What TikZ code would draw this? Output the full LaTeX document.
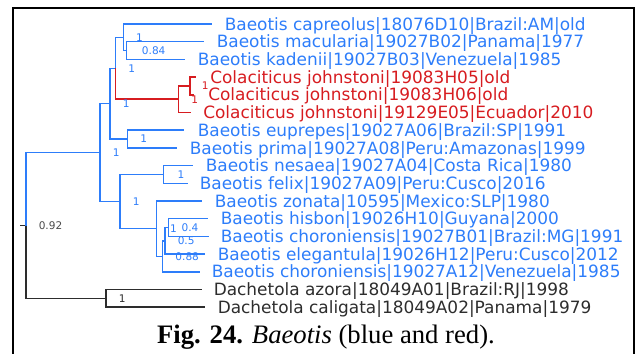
\documentclass[tikz,border=0pt]{standalone}
\usepackage{fontspec}
\setmainfont{Liberation Serif}
\newfontfamily\treefont{DejaVu Sans}
\definecolor{tblue}{RGB}{45,125,250}
\definecolor{tred}{RGB}{215,28,32}
\definecolor{tblk}{RGB}{45,45,45}
\definecolor{tgray}{RGB}{75,75,75}
\begin{document}
\begin{tikzpicture}[x=0.75pt,y=-0.75pt,
  br/.style={line width=1.1pt},
  tiplab/.style={anchor=west,inner sep=0pt,font=\treefont\fontsize{12.7}{14}\selectfont,text height=9.26pt,text depth=0pt},
  suplab/.style={anchor=west,inner sep=0pt,font=\treefont\fontsize{7.9}{9}\selectfont,text height=5.76pt,text depth=0pt},
  frame/.style={line width=1.6pt,black,line join=miter}]
\useasboundingbox (0,0) rectangle (637,354);
\draw[frame] (13,355) -- (13,7.7) -- (634.3,7.7) -- (634.3,355);

% tips
\coordinate (t1) at (212,24.0);
\coordinate (t2) at (204,41.7);
\coordinate (t3) at (185,59.4);
\coordinate (t4) at (196,77.1);
\coordinate (t5) at (194,94.8);
\coordinate (t6) at (191,112.5);
\coordinate (t7) at (184,130.2);
\coordinate (t8) at (177,147.9);
\coordinate (t9) at (193,165.6);
\coordinate (t10) at (187.5,183.3);
\coordinate (t11) at (202,201.0);
\coordinate (t12) at (208,218.7);
\coordinate (t13) at (209,236.4);
\coordinate (t14) at (205,254.1);
\coordinate (t15) at (200,271.8);
\coordinate (t16) at (202,289.5);
\coordinate (t17) at (205,307.2);

% internal nodes
\coordinate (G) at (126.7,50.55);
\coordinate (F) at (123.3,37.28);
\coordinate (I) at (190,85.95);
\coordinate (H) at (178.7,99.23);
\coordinate (D) at (115.7,68.25);
\coordinate (E) at (127.7,139.05);
\coordinate (B) at (110,103.65);
\coordinate (N) at (163.3,174.45);
\coordinate (M) at (168.3,227.55);
\coordinate (L) at (165,240.83);
\coordinate (K) at (162.7,256.3);
\coordinate (J) at (156.3,228.65);
\coordinate (C) at (120,201.55);
\coordinate (A) at (100,152.6);
\coordinate (P) at (106,298.35);
\coordinate (R) at (26,225.5);
\coordinate (R0) at (20,225.5);

% branches
\draw[br,tblk] (R0) -- (R);
\draw[br,tblue] (R) |- (A);
\draw[br,tblk] (R) |- (P);
\draw[br,tblue] (A) |- (B);
\draw[br,tblue] (A) |- (C);
\draw[br,tblue] (B) |- (D);
\draw[br,tblue] (B) |- (E);
\draw[br,tblue] (D) |- (F);
\draw[br,tred] (D) |- (H);
\draw[br,tblue] (F) |- (t1);
\draw[br,tblue] (F) |- (G);
\draw[br,tblue] (G) |- (t2);
\draw[br,tblue] (G) |- (t3);
\draw[br,tred] (H) |- (I);
\draw[br,tred] (H) |- (t6);
\draw[br,tred] (I) |- (t4);
\draw[br,tred] (I) |- (t5);
\draw[br,tblue] (E) |- (t7);
\draw[br,tblue] (E) |- (t8);
\draw[br,tblue] (C) |- (N);
\draw[br,tblue] (C) |- (J);
\draw[br,tblue] (N) |- (t9);
\draw[br,tblue] (N) |- (t10);
\draw[br,tblue] (J) |- (t11);
\draw[br,tblue] (J) |- (K);
\draw[br,tblue] (K) |- (L);
\draw[br,tblue] (K) |- (t15);
\draw[br,tblue] (L) |- (M);
\draw[br,tblue] (L) |- (t14);
\draw[br,tblue] (M) |- (t12);
\draw[br,tblue] (M) |- (t13);
\draw[br,tblk] (P) |- (t16);
\draw[br,tblk] (P) |- (t17);

% tip labels
\node[tiplab,tblue] (l1) at (224.5,24.0) {Baeotis capreolus|18076D10|Brazil:AM|old};
\node[tiplab,tblue] (l2) at (216.5,41.7) {Baeotis macularia|19027B02|Panama|1977};
\node[tiplab,tblue] (l3) at (197.5,59.4) {Baeotis kadenii|19027B03|Venezuela|1985};
\node[tiplab,tred] (l4) at (210,77.1) {Colaciticus johnstoni|19083H05|old};
\node[tiplab,tred] (l5) at (208,94.8) {Colaciticus johnstoni|19083H06|old};
\node[tiplab,tred] (l6) at (203,112.5) {Colaciticus johnstoni|19129E05|Ecuador|2010};
\node[tiplab,tblue] (l7) at (197.5,130.2) {Baeotis euprepes|19027A06|Brazil:SP|1991};
\node[tiplab,tblue] (l8) at (189.5,147.9) {Baeotis prima|19027A08|Peru:Amazonas|1999};
\node[tiplab,tblue] (l9) at (205.5,165.6) {Baeotis nesaea|19027A04|Costa Rica|1980};
\node[tiplab,tblue] (l10) at (199.5,183.3) {Baeotis felix|19027A09|Peru:Cusco|2016};
\node[tiplab,tblue] (l11) at (214.5,201.0) {Baeotis zonata|10595|Mexico:SLP|1980};
\node[tiplab,tblue] (l12) at (220.5,218.7) {Baeotis hisbon|19026H10|Guyana|2000};
\node[tiplab,tblue] (l13) at (220.5,236.4) {Baeotis choroniensis|19027B01|Brazil:MG|1991};
\node[tiplab,tblue] (l14) at (217.5,254.1) {Baeotis elegantula|19026H12|Peru:Cusco|2012};
\node[tiplab,tblue] (l15) at (211.5,271.8) {Baeotis choroniensis|19027A12|Venezuela|1985};
\node[tiplab,tblk] (l16) at (213.5,289.5) {Dachetola azora|18049A01|Brazil:RJ|1998};
\node[tiplab,tblk] (l17) at (217.5,307.2) {Dachetola caligata|18049A02|Panama|1979};

% support labels
\node[suplab,tgray] (sR) at (38.5,225.5) {0.92};
\node[suplab,tblue] (sA) at (112.5,152.6) {1};
\node[suplab,tblue] (sB) at (122.5,103.65) {1};
\node[suplab,tblue] (sC) at (132.5,201.55) {1};
\node[suplab,tblue] (sD) at (128.2,68.25) {1};
\node[suplab,tblue] (sE) at (140.2,139.05) {1};
\node[suplab,tblue] (sF) at (135.8,37.28) {1};
\node[suplab,tblue] (sG) at (141.7,50.55) {0.84};
\node[suplab,tred] (sH) at (191.2,99.23) {1};
\node[suplab,tred] (sI) at (201.5,85.95) {1};
\node[suplab,tblue] (sN) at (177.3,174.45) {1};
\node[suplab,tblue] (sJ) at (169.8,228.65) {1};
\node[suplab,tblue] (sM) at (181.3,227.55) {0.4};
\node[suplab,tblue] (sL) at (177.5,240.83) {0.5};
\node[suplab,tblue] (sK) at (175.2,256.3) {0.88};
\node[suplab,tblk] (sP) at (118.5,298.35) {1};

% caption
\node[anchor=base,inner sep=0pt,font=\fontsize{20}{24}\selectfont] (cap) at (326,343.3) {\textbf{Fig. 24.} \textit{Baeotis} (blue and red).};
\end{tikzpicture}
\end{document}
